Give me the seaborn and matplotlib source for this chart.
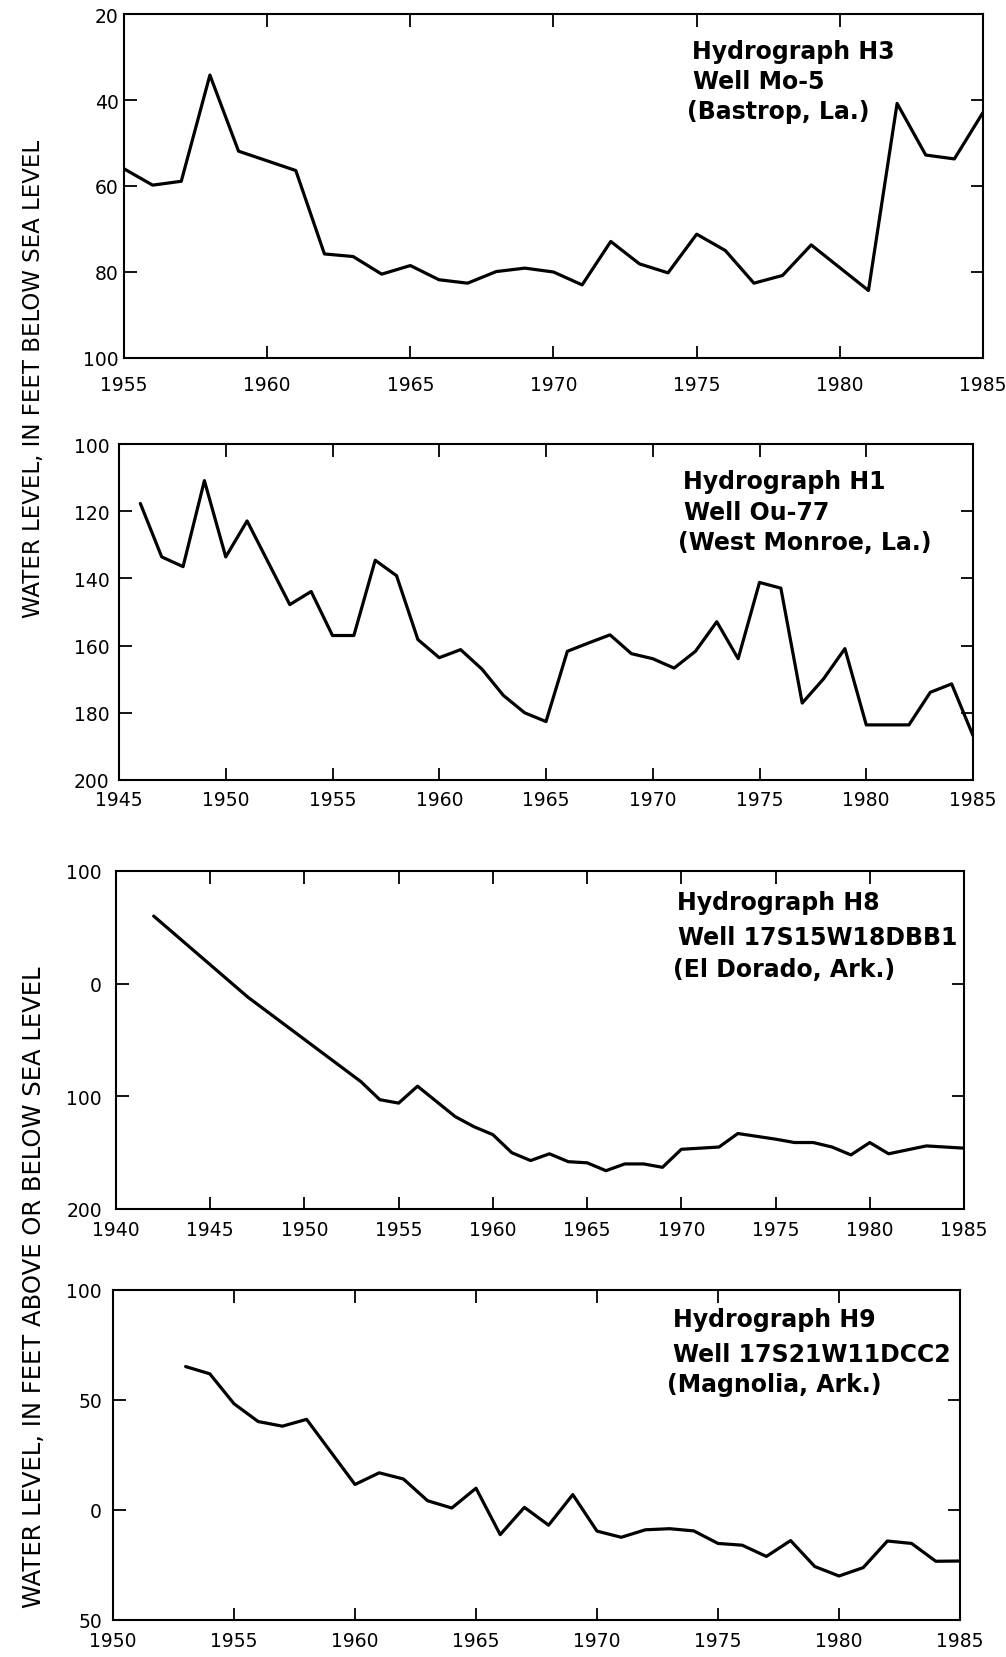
import matplotlib
matplotlib.use("Agg")
import matplotlib.pyplot as plt
import seaborn as sns

# H3, well Mo-5: depth below sea level (ft)
h3_years = [1955, 1956, 1957, 1958, 1959, 1961, 1962, 1963, 1964, 1965,
            1966, 1967, 1968, 1969, 1970, 1971, 1972, 1973, 1974, 1975,
            1976, 1977, 1978, 1979, 1981, 1982, 1983, 1984, 1985]
h3_depth = [56.0, 59.8, 58.9, 34.2, 51.9, 56.4, 75.8, 76.4, 80.5, 78.5,
            81.8, 82.6, 79.9, 79.1, 80.0, 83.0, 72.9, 78.1, 80.2, 71.2,
            75.0, 82.6, 80.8, 73.7, 84.3, 40.8, 52.8, 53.7, 42.9]

# H1, well Ou-77: depth below sea level (ft)
h1_years = [1946, 1947, 1948, 1949, 1950, 1951, 1953, 1954, 1955, 1956,
            1957, 1958, 1959, 1960, 1961, 1962, 1963, 1964, 1965, 1966,
            1967, 1968, 1969, 1970, 1971, 1972, 1973, 1974, 1975, 1976,
            1977, 1978, 1979, 1980, 1981, 1982, 1983, 1984, 1985]
h1_depth = [117.7, 133.6, 136.5, 110.9, 133.6, 122.9, 147.8, 143.9, 157.0, 157.0,
            134.6, 139.2, 158.2, 163.6, 161.2, 167.0, 174.8, 180.0, 182.6, 161.7,
            159.2, 156.8, 162.4, 163.9, 166.7, 161.7, 152.9, 163.9, 141.2, 142.9,
            177.1, 169.9, 160.9, 183.6, 183.6, 183.6, 173.9, 171.4, 186.8]

# H8, well 17S15W18DBB1: level relative to sea level (ft, + above)
h8_years = [1942, 1947, 1953, 1954, 1955, 1956, 1958, 1959, 1960, 1961,
            1962, 1963, 1964, 1965, 1966, 1967, 1968, 1969, 1970, 1972,
            1973, 1975, 1976, 1977, 1978, 1979, 1980, 1981, 1983, 1985]
h8_level = [60, -12, -87, -103, -106, -91, -118, -127, -134, -150,
            -157, -151, -158, -159, -166, -160, -160, -163, -147, -145,
            -133, -138, -141, -141, -145, -152, -141, -151, -144, -146]

# H9, well 17S21W11DCC2: level relative to sea level (ft, + above)
h9_years = [1953, 1954, 1955, 1956, 1957, 1958, 1960, 1961, 1962, 1963,
            1964, 1965, 1966, 1967, 1968, 1969, 1970, 1971, 1972, 1973,
            1974, 1975, 1976, 1977, 1978, 1979, 1980, 1981, 1982, 1983,
            1984, 1985]
h9_level = [65.2, 61.9, 48.3, 40.2, 38.1, 41.2, 11.6, 16.9, 14.1, 4.2,
            0.9, 9.9, -11.2, 1.2, -6.9, 7.0, -9.6, -12.4, -9.0, -8.5,
            -9.5, -15.2, -16.0, -21.1, -13.9, -25.7, -30.0, -26.2, -14.1, -15.2,
            -23.3, -23.2]

# -- Setup -----------------------------------------------------------------
sns.set_theme(style="ticks")
plt.rcParams["font.family"] = ["DejaVu Sans"]

W, H = 1006, 1658
fig = plt.figure(figsize=(W / 100, H / 100), dpi=100)
fig.patch.set_facecolor("white")


def px(x, y):
    return x / W, 1 - y / H


panels = [
    dict(box=(124, 15, 983, 359), x=h3_years, y=h3_depth,
         xlim=(1955, 1985), ylim=(100, 20), yticks=[20, 40, 60, 80, 100],
         xpad=12, ypad=4,
         text=[("Hydrograph H3", 692, 52), ("Well Mo-5", 693, 82),
               ("(Bastrop, La.)", 687, 112)]),
    dict(box=(119, 445, 973, 781), x=h1_years, y=h1_depth,
         xlim=(1945, 1985), ylim=(200, 100), yticks=[100, 120, 140, 160, 180, 200],
         xpad=7, ypad=7,
         text=[("Hydrograph H1", 683, 482), ("Well Ou-77", 684, 513),
               ("(West Monroe, La.)", 678, 543)]),
    dict(box=(116, 872, 964, 1210), x=h8_years, y=h8_level,
         xlim=(1940, 1985), ylim=(-200, 100), yticks=[100, 0, -100, -200],
         xpad=8, ypad=10,
         text=[("Hydrograph H8", 677, 903), ("Well 17S15W18DBB1", 678, 938),
               ("(El Dorado, Ark.)", 673, 970)]),
    dict(box=(113, 1291, 960, 1621), x=h9_years, y=h9_level,
         xlim=(1950, 1985), ylim=(-50, 100), yticks=[100, 50, 0, -50],
         xpad=8, ypad=8,
         text=[("Hydrograph H9", 673, 1320), ("Well 17S21W11DCC2", 673, 1355),
               ("(Magnolia, Ark.)", 667, 1385)]),
]

for p in panels:
    left, top, right, bottom = p["box"]
    ax = fig.add_axes([left / W, 1 - bottom / H, (right - left) / W, (bottom - top) / H])
    sns.lineplot(x=p["x"], y=p["y"], ax=ax, color="black", linewidth=2.3,
                 estimator=None, legend=False)
    ax.set_xlim(*p["xlim"])
    ax.set_ylim(*p["ylim"])
    ax.set_xticks(range(p["xlim"][0], p["xlim"][1] + 1, 5))
    ax.set_yticks(p["yticks"])
    ax.set_yticklabels([str(abs(v)) for v in p["yticks"]])
    ax.set_xlabel("")
    ax.set_ylabel("")
    ax.tick_params(direction="in", length=9, width=1.3, top=True, right=True,
                   labelsize=13.5, colors="black")
    ax.tick_params(axis="x", pad=p["xpad"])
    ax.tick_params(axis="y", pad=p["ypad"])
    for s in ax.spines.values():
        s.set_linewidth(1.5)
        s.set_color("black")
    for label, tx, ty in p["text"]:
        fig.text(*px(tx, ty), label, ha="left", va="center",
                 fontsize=17, fontweight="bold", color="black")

# -- Shared axis titles ----------------------------------------------------
fig.text(*px(34, 379), "WATER LEVEL, IN FEET BELOW SEA LEVEL",
         rotation=90, ha="center", va="center", fontsize=16.5, color="black")
fig.text(*px(34, 1287), "WATER LEVEL, IN FEET ABOVE OR BELOW SEA LEVEL",
         rotation=90, ha="center", va="center", fontsize=17.5, color="black")

fig.savefig("out.png", dpi=100, facecolor="white")
